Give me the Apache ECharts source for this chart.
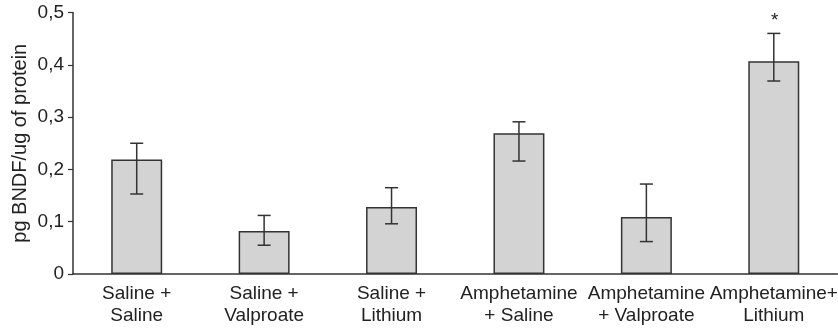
<!DOCTYPE html>
<html><head><meta charset="utf-8">
<script src="https://cdn.jsdelivr.net/npm/echarts@6/dist/echarts.min.js"></script>
<style>html,body{margin:0;padding:0;background:#fff}#c{width:838px;height:329px}</style>
</head><body><div id="c"></div>
<script>
const categories = ['Saline +\nSaline', 'Saline +\nValproate', 'Saline +\nLithium', 'Amphetamine\n+ Saline', 'Amphetamine\n+ Valproate', 'Amphetamine+\nLithium'];
const means = [0.219, 0.082, 0.128, 0.269, 0.109, 0.407];
const errLow = [0.153, 0.055, 0.096, 0.216, 0.062, 0.369];
const errHigh = [0.250, 0.112, 0.165, 0.291, 0.172, 0.460];
const marks = ['', '', '', '', '', '*'];
const yTicks = [0, 0.1, 0.2, 0.3, 0.4, 0.5];

const font = 'Liberation Sans, Arial, sans-serif';
const ink = '#222';
const chart = echarts.init(document.getElementById('c'));
chart.setOption({
  animation: false,
  grid: {left: 73, right: 0.5, top: 12.5, bottom: 55, containLabel: false, outerBoundsMode: 'none'},
  xAxis: {
    type: 'category', data: categories,
    axisLine: {lineStyle: {color: '#333', width: 1.5}},
    axisTick: {length: 5, lineStyle: {color: '#333', width: 1.2}},
    axisLabel: {color: ink, fontSize: 19, fontFamily: font, lineHeight: 22, margin: 9, interval: 0, hideOverlap: false}
  },
  yAxis: {
    type: 'value', min: yTicks[0], max: yTicks[yTicks.length - 1], interval: 0.1,
    name: 'pg BNDF/ug of protein', nameLocation: 'middle', nameGap: 43, nameMoveOverlap: false,
    nameTextStyle: {color: ink, fontSize: 20, fontFamily: font},
    splitLine: {show: false},
    axisLine: {show: true, lineStyle: {color: '#333', width: 1.5}},
    axisTick: {show: true, length: 5, lineStyle: {color: '#333', width: 1.2}},
    axisLabel: {color: ink, fontSize: 19, fontFamily: font, margin: 9,
      formatter: v => (Math.round(v * 10) / 10).toString().replace('.', ',')}
  },
  series: [
    {
      type: 'bar', data: means, barWidth: '40%',
      itemStyle: {color: '#d3d3d3', borderColor: '#333', borderWidth: 1.5}
    },
    {
      type: 'custom',
      data: categories.map((c, i) => [i, errLow[i], errHigh[i]]),
      renderItem: (params, api) => {
        const x = api.value(0);
        const pLo = api.coord([x, api.value(1)]);
        const pHi = api.coord([x, api.value(2)]);
        const w = 6.5;
        const st = {stroke: '#333', lineWidth: 1.5};
        return {type: 'group', children: [
          {type: 'line', shape: {x1: pLo[0], y1: pLo[1], x2: pHi[0], y2: pHi[1]}, style: st},
          {type: 'line', shape: {x1: pHi[0] - w, y1: pHi[1], x2: pHi[0] + w, y2: pHi[1]}, style: st},
          {type: 'line', shape: {x1: pLo[0] - w, y1: pLo[1], x2: pLo[0] + w, y2: pLo[1]}, style: st}
        ]};
      },
      z: 5
    },
    {
      type: 'custom',
      data: categories.map((c, i) => [i, errHigh[i], marks[i]]),
      renderItem: (params, api) => {
        const i = params.dataIndex;
        const p = api.coord([i, errHigh[i]]);
        return {type: 'text', x: p[0] + 1, y: p[1] - 3,
          style: {text: marks[i], fill: ink, fontSize: 19, fontFamily: font, align: 'center', verticalAlign: 'bottom'}};
      },
      z: 6
    }
  ]
});
</script></body></html>
